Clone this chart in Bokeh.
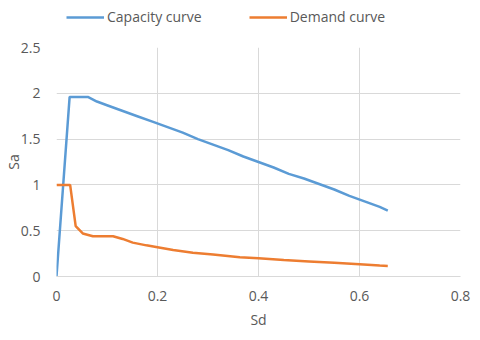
from bokeh.plotting import figure
from bokeh.layouts import column
from bokeh.models import Legend, LegendItem, Range1d, FixedTicker
from bokeh.embed import file_html
from bokeh.resources import INLINE

cap_sd = [0, 0.026, 0.062, 0.08, 0.10, 0.13, 0.16, 0.19, 0.22, 0.25, 0.28, 0.31, 0.34,
          0.37, 0.40, 0.43, 0.46, 0.49, 0.52, 0.55, 0.58, 0.61, 0.64, 0.656]
cap_sa = [0, 1.96, 1.96, 1.91, 1.87, 1.81, 1.75, 1.69, 1.63, 1.57, 1.50, 1.44, 1.38,
          1.31, 1.25, 1.19, 1.12, 1.07, 1.01, 0.95, 0.88, 0.82, 0.76, 0.72]
dem_sd = [0, 0.027, 0.038, 0.052, 0.072, 0.112, 0.131, 0.151, 0.178, 0.2, 0.231, 0.27,
          0.31, 0.363, 0.4, 0.45, 0.5, 0.55, 0.6, 0.64, 0.656]
dem_sa = [1.0, 1.0, 0.55, 0.47, 0.44, 0.44, 0.41, 0.37, 0.34, 0.32, 0.29, 0.26,
          0.24, 0.21, 0.20, 0.18, 0.165, 0.15, 0.135, 0.12, 0.115]

x_ticks = [0, 0.2, 0.4, 0.6, 0.8]
x_labels = ["0", "0.2", "0.4", "0.6", "0.8"]
y_ticks = [0, 0.5, 1, 1.5, 2, 2.5]
y_labels = ["0", "0.5", "1", "1.5", "2", "2.5"]
series_names = ["Capacity curve", "Demand curve"]
series_colors = ["#5B9BD5", "#ED7D31"]

FONT = "Open Sans"
TXT = "#595959"
GRID = "#d9d9d9"
W = 472
LEG_H = 32

# ---- legend strip on top (its proxy lines use the series data, kept off-range) ----
lg = figure(width=W, height=LEG_H, output_backend="svg", toolbar_location=None,
            x_range=Range1d(10, 11), y_range=Range1d(10, 11),
            x_axis_location=None, y_axis_location=None,
            min_border=0, min_border_left=0, min_border_right=0,
            min_border_top=0, min_border_bottom=0)
lg.outline_line_color = None
lg.grid.visible = False
d1 = lg.line(x=cap_sd, y=cap_sa, line_color=series_colors[0], line_width=2.5)
d2 = lg.line(x=dem_sd, y=dem_sa, line_color=series_colors[1], line_width=2.5)
legend = Legend(items=[LegendItem(label=series_names[0], renderers=[d1]),
                       LegendItem(label=series_names[1], renderers=[d2])],
                orientation="horizontal", location=(10, 6),
                padding=0, margin=0, spacing=47, label_standoff=3,
                glyph_width=38, glyph_height=16, label_height=16,
                label_text_font=FONT, label_text_font_size="14px",
                label_text_color=TXT, background_fill_alpha=0,
                border_line_color=None)
lg.add_layout(legend)

# ---- main chart ----
p = figure(width=W, height=332 - LEG_H, output_backend="svg", toolbar_location=None,
           x_range=Range1d(0, 0.8), y_range=Range1d(0, 2.5),
           min_border_left=56, min_border_right=12, min_border_top=47 - LEG_H,
           min_border_bottom=56)
p.outline_line_color = None
p.background_fill_color = "white"
p.border_fill_color = "white"

p.line(cap_sd, cap_sa, line_color=series_colors[0], line_width=2.5)
p.line(dem_sd, dem_sa, line_color=series_colors[1], line_width=2.5)

p.xaxis.ticker = FixedTicker(ticks=x_ticks)
p.yaxis.ticker = FixedTicker(ticks=y_ticks)
p.xaxis.major_label_overrides = {t: l for t, l in zip(x_ticks, x_labels)}
p.yaxis.major_label_overrides = {t: l for t, l in zip(y_ticks, y_labels)}
p.xaxis.axis_label = "Sd"
p.yaxis.axis_label = "Sa"

for ax in (p.xaxis[0], p.yaxis[0]):
    ax.major_tick_line_color = None
    ax.minor_tick_line_color = None
    ax.major_label_text_font = FONT
    ax.major_label_text_font_size = "14px"
    ax.major_label_text_color = TXT
    ax.axis_label_text_font = FONT
    ax.axis_label_text_font_size = "14px"
    ax.axis_label_text_font_style = "normal"
    ax.axis_label_text_color = TXT
p.xaxis.axis_line_color = GRID
p.yaxis.axis_line_color = None
p.xaxis.major_label_standoff = 8
p.xaxis.axis_label_standoff = 6
p.yaxis.major_label_standoff = 10
p.yaxis.axis_label_standoff = -5

p.xgrid.grid_line_color = GRID
p.ygrid.grid_line_color = GRID
p.xgrid.grid_line_width = 1
p.ygrid.grid_line_width = 1

layout = column(lg, p, spacing=0)
open("out.html", "w").write(file_html(layout, INLINE))
